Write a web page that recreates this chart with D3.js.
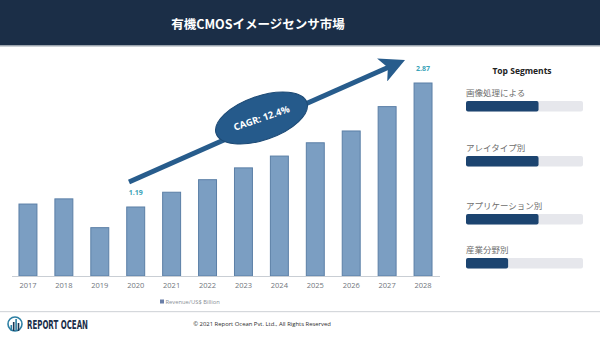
<!DOCTYPE html>
<meta charset="utf-8">
<title>有機CMOSイメージセンサ市場</title>
<script src="https://d3js.org/d3.v7.min.js"></script>
<style>
  body { margin: 0; background: #fff; }
  text { font-family: "Open Sans", "Noto Sans CJK JP", sans-serif; }
</style>
<body>
<div id="chart"></div>
<script>

// data
var years = ["2017","2018","2019","2020","2021","2022","2023","2024","2025","2026","2027","2028"];
var revenue = [1.23, 1.30, 0.91, 1.19, 1.39, 1.56, 1.72, 1.88, 2.06, 2.22, 2.55, 2.87];
var labelled = ["2020", "2028"];
var segments = ["画像処理による", "アレイタイプ別", "アプリケーション別", "産業分野別"];
var segmentShare = [62, 62, 62, 36];
var segmentY = [93, 148, 206, 250];

var W = 600, H = 338;

var svg = d3.select("#chart").append("svg")
    .attr("width", W)
    .attr("height", H);

// header
svg.append("rect").attr("x", 0).attr("y", 0).attr("width", W).attr("height", 45).attr("fill", "#1b2e47");
svg.append("rect").attr("x", 0).attr("y", 45).attr("width", W).attr("height", 1.5).attr("fill", "#9aa3ad");
svg.append("text")
    .attr("x", 258).attr("y", 29)
    .attr("text-anchor", "middle")
    .style("font-family", "'Noto Sans CJK JP', sans-serif")
    .style("font-size", "12.5px").style("font-weight", "bold")
    .attr("fill", "#fff")
    .text("有機CMOSイメージセンサ市場");

// bar chart
var x = d3.scaleBand()
    .domain(years)
    .range([10, 441])
    .paddingInner(0.5)
    .paddingOuter(0.25);

var y = d3.scaleLinear()
    .domain([0.255, 2.87])
    .range([276, 83]);

var g = svg.append("g");

// growth arrow
var defs = svg.append("defs");
defs.append("marker")
    .attr("id", "head")
    .attr("viewBox", "0 0 10 10")
    .attr("refX", 3).attr("refY", 5)
    .attr("markerWidth", 5).attr("markerHeight", 5)
    .attr("orient", "auto")
  .append("path")
    .attr("d", "M0,0 L10,5 L0,10 L2.5,5 Z")
    .attr("fill", "#275c8c");

g.append("line")
    .attr("x1", 129).attr("y1", 182)
    .attr("x2", 389).attr("y2", 67)
    .attr("stroke", "#275c8c")
    .attr("stroke-width", 5)
    .attr("marker-end", "url(#head)");

g.selectAll(".bar")
    .data(revenue)
    .enter()
    .append("rect")
      .attr("class", "bar")
      .attr("x", function(d, i) { return x(years[i]); })
      .attr("y", function(d) { return y(d); })
      .attr("width", x.bandwidth())
      .attr("height", function(d) { return y.range()[0] - y(d); })
      .attr("fill", "#7b9ec2")
      .attr("stroke", "#5b7fa6")
      .attr("stroke-width", 1);

// axis line and year labels
var xAxis = g.append("g")
    .attr("transform", "translate(0,276)")
    .call(d3.axisBottom(x).tickSize(0).tickPadding(7));
xAxis.select(".domain").attr("stroke", "#c9ced4").attr("d", "M12,0.5H440");
xAxis.selectAll("text")
    .style("font-family", "'Open Sans', sans-serif")
    .style("font-size", "7.5px")
    .attr("fill", "#6f757c");

// value labels
g.selectAll(".val")
    .data(revenue.filter(function(d, i) { return labelled.indexOf(years[i]) >= 0; }))
    .enter()
    .append("text")
      .attr("x", function(d) { return x(years[revenue.indexOf(d)]) + x.bandwidth() / 2; })
      .attr("y", function(d) { return y(d) - 12; })
      .attr("text-anchor", "middle")
      .style("font-size", "7px").style("font-weight", "bold")
      .attr("fill", "#3aa3b8")
      .text(function(d) { return d.toFixed(2); });

// CAGR bubble
var bubble = g.append("g").attr("transform", "translate(261.5,118) rotate(-19)");
bubble.append("ellipse")
    .attr("rx", 48).attr("ry", 22)
    .attr("fill", "#255a8b")
    .attr("stroke", "#1d4a75").attr("stroke-width", 1);
bubble.append("text")
    .attr("x", 0).attr("y", 3.5)
    .attr("text-anchor", "middle")
    .style("font-size", "9.5px").style("font-weight", "bold")
    .attr("fill", "#fff")
    .text("CAGR: 12.4%");

// legend
svg.append("rect").attr("x", 160).attr("y", 299.5).attr("width", 4).attr("height", 4).attr("fill", "#6a7fa8");
svg.append("text")
    .attr("x", 165.5).attr("y", 304)
    .style("font-size", "5.8px")
    .attr("fill", "#8a9096")
    .text("Revenue/US$ Billion");

// right panel
svg.append("text")
    .attr("x", 522).attr("y", 74)
    .attr("text-anchor", "middle")
    .style("font-size", "8.5px").style("font-weight", "bold")
    .attr("fill", "#222")
    .text("Top Segments");

var seg = d3.scaleLinear().domain([0, 100]).range([0, 117]);

var rows = svg.selectAll(".seg")
    .data(segments)
    .enter()
    .append("g")
      .attr("class", "seg")
      .attr("transform", function(d, i) { return "translate(466," + segmentY[i] + ")"; });

rows.append("text")
    .attr("x", 0).attr("y", 3)
    .style("font-family", "'Noto Sans CJK JP', sans-serif")
    .style("font-size", "8.5px")
    .attr("fill", "#6d6d6d")
    .text(function(d) { return d; });

rows.append("rect")
    .attr("x", 0).attr("y", 8)
    .attr("width", seg(100)).attr("height", 10.5)
    .attr("rx", 2)
    .attr("fill", "#e6e7ec");

rows.append("rect")
    .attr("x", 0).attr("y", 8)
    .attr("width", function(d, i) { return seg(segmentShare[i]); })
    .attr("height", 10.5)
    .attr("rx", 2)
    .attr("fill", "#1c4470");

// footer
svg.append("rect").attr("x", 0).attr("y", 311).attr("width", W).attr("height", 1.2).attr("fill", "#d5d8dc");
svg.append("text")
    .attr("x", 262).attr("y", 326)
    .attr("text-anchor", "middle")
    .style("font-size", "5.9px")
    .attr("fill", "#2b2b2b")
    .text("© 2021 Report Ocean Pvt. Ltd., All Rights Reserved");

var logo = svg.append("g").attr("transform", "translate(15,324)");
logo.append("circle").attr("r", 7).attr("fill", "none").attr("stroke", "#2d7fa3").attr("stroke-width", 1.6);
logo.selectAll(".lb")
    .data([3, 6, 9, 5])
    .enter()
    .append("rect")
      .attr("x", function(d, i) { return -4.5 + i * 2.4; })
      .attr("y", function(d) { return 4 - d; })
      .attr("width", 1.6)
      .attr("height", function(d) { return d + 3; })
      .attr("fill", function(d, i) { return i % 2 ? "#1c3552" : "#2d7fa3"; });
svg.append("text")
    .attr("x", 27).attr("y", 328.5)
    .attr("textLength", 61)
    .attr("lengthAdjust", "spacingAndGlyphs")
    .style("font-family", "'DejaVu Sans Condensed', 'Liberation Sans Narrow', sans-serif")
    .style("font-size", "11.5px").style("font-weight", "bold")
    .attr("fill", "#1c2f4a")
    .text("REPORT OCEAN");

</script>
</body>
